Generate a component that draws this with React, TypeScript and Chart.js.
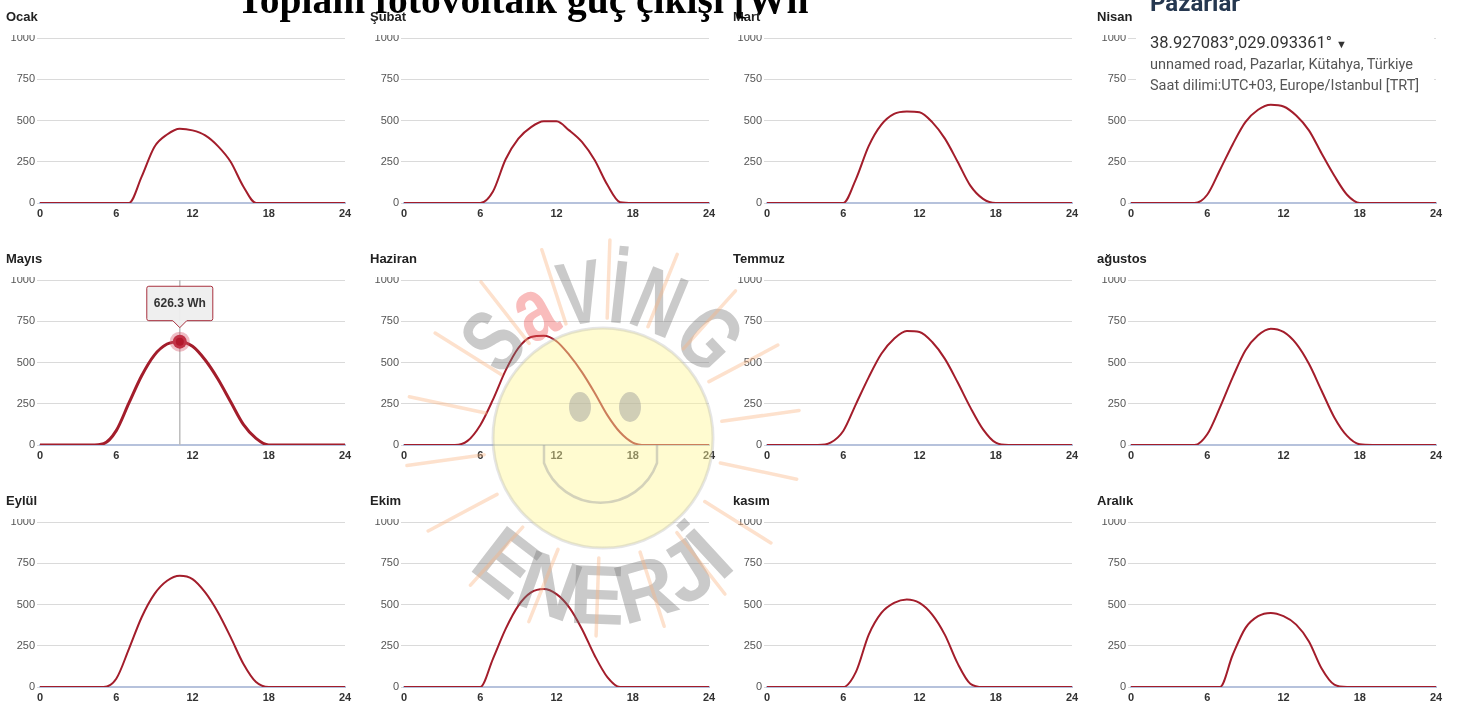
import React, { useEffect, useRef } from "react";
import { Chart, registerables } from "chart.js";

Chart.register(...registerables);

// ---------- data ----------
const HOURS = [0, 1, 2, 3, 4, 5, 6, 7, 8, 9, 10, 11, 12, 13, 14, 15, 16, 17, 18, 19, 20, 21, 22, 23, 24];
const MONTHS = ["Ocak", "Şubat", "Mart", "Nisan", "Mayıs", "Haziran", "Temmuz", "ağustos", "Eylül", "Ekim", "kasım", "Aralık"];
const Y_MIN = 0;
const Y_MAX = 1000;
const Y_STEP = 250;
const X_MIN = 0;
const X_MAX = 24;
const X_STEP = 6;

const OCAK = [0, 0, 0, 0, 0, 0, 0, 0, 160, 340, 415, 450, 440, 410, 345, 250, 100, 0, 0, 0, 0, 0, 0, 0, 0];
const SUBAT = [0, 0, 0, 0, 0, 0, 0, 70, 265, 390, 460, 495, 495, 440, 370, 260, 110, 5, 0, 0, 0, 0, 0, 0, 0];
const MART = [0, 0, 0, 0, 0, 0, 0, 145, 345, 475, 540, 555, 550, 490, 390, 250, 105, 25, 0, 0, 0, 0, 0, 0, 0];
const NISAN = [0, 0, 0, 0, 0, 0, 50, 200, 355, 490, 565, 595, 585, 530, 440, 300, 165, 50, 0, 0, 0, 0, 0, 0, 0];
const MAYIS = [0, 0, 0, 0, 0, 8, 87, 255, 420, 545, 612, 626.3, 598, 515, 400, 262, 125, 40, 0, 0, 0, 0, 0, 0, 0];
const HAZIRAN = [0, 0, 0, 0, 0, 25, 120, 275, 452, 588, 655, 662, 629, 546, 442, 317, 181, 77, 15, 0, 0, 0, 0, 0, 0];
const TEMMUZ = [0, 0, 0, 0, 0, 14, 85, 248, 410, 553, 644, 691, 685, 624, 522, 380, 228, 95, 14, 0, 0, 0, 0, 0, 0];
const AGUSTOS = [0, 0, 0, 0, 0, 0, 65, 228, 410, 573, 665, 705, 685, 614, 492, 329, 167, 55, 4, 0, 0, 0, 0, 0, 0];
const EYLUL = [0, 0, 0, 0, 0, 0, 50, 231, 423, 563, 644, 674, 654, 573, 453, 302, 141, 30, 0, 0, 0, 0, 0, 0, 0];
const EKIM = [0, 0, 0, 0, 0, 0, 0, 171, 352, 493, 573, 594, 563, 483, 352, 191, 60, 0, 0, 0, 0, 0, 0, 0, 0];
const KASIM = [0, 0, 0, 0, 0, 0, 0, 92, 316, 449, 510, 531, 510, 439, 316, 143, 20, 0, 0, 0, 0, 0, 0, 0, 0];
const ARALIK = [0, 0, 0, 0, 0, 0, 0, 0, 194, 357, 429, 449, 429, 378, 276, 112, 14, 0, 0, 0, 0, 0, 0, 0, 0];

const SERIES = [OCAK, SUBAT, MART, NISAN, MAYIS, HAZIRAN, TEMMUZ, AGUSTOS, EYLUL, EKIM, KASIM, ARALIK];
const HOVER_MONTH = 4;
const HOVER_HOUR = 11;
const UNIT = "Wh";

const TITLE = "Toplam fotovoltaik güç çıkışı [Wh";
const PLACE = "Pazarlar";
const COORDS = "38.927083°,029.093361°";
const ADDRESS = "unnamed road, Pazarlar, Kütahya, Türkiye";
const TIMEZONE = "Saat dilimi:UTC+03, Europe/Istanbul [TRT]";
const WM_TOP = ["S", "a", "VİNG"];
const WM_BOTTOM = "ENERJİ";

// ---------- layout ----------
const COL_X = [0, 364, 727, 1091];
const ROW_Y = [38, 280, 522];
const Y_AXIS_W = 40;
const PLOT_W = 305;
const PLOT_H = 165;
const TOP_PAD = 3;
const RIGHT_PAD = 10;
const X_AXIS_H = 22;
const CANVAS_W = Y_AXIS_W + PLOT_W + RIGHT_PAD;
const CANVAS_H = TOP_PAD + PLOT_H + X_AXIS_H;

const SANS = '"Liberation Sans", Arial, sans-serif';
const LINE_COLOR = "#a31d2b";

const crosshair = {
  id: "crosshair",
  beforeDatasetsDraw(chart: any) {
    const act = chart.tooltip && chart.tooltip.getActiveElements ? chart.tooltip.getActiveElements() : [];
    if (!act || !act.length) return;
    const x = act[0].element.x;
    const { top, bottom } = chart.chartArea;
    const ctx = chart.ctx;
    ctx.save();
    ctx.strokeStyle = "#bdbdbd";
    ctx.lineWidth = 1.5;
    ctx.beginPath();
    ctx.moveTo(x, top);
    ctx.lineTo(x, bottom);
    ctx.stroke();
    ctx.restore();
  },
};

function makeConfig(i: number): any {
  const values = SERIES[i];
  const hovered = i === HOVER_MONTH;
  return {
    type: "line",
    data: {
      datasets: [
        {
          data: HOURS.map((h, k) => ({ x: h, y: values[k] })),
          borderColor: LINE_COLOR,
          borderWidth: hovered ? 3 : 2,
          pointRadius: 0,
          pointHoverRadius: hovered ? 7 : 0,
          pointHoverBackgroundColor: "#b3182c",
          pointHoverBorderColor: "rgba(214, 90, 110, 0.4)",
          pointHoverBorderWidth: 6,
          cubicInterpolationMode: "monotone",
          fill: false,
        },
      ],
    },
    options: {
      responsive: false,
      animation: false,
      events: [],
      layout: { padding: { top: TOP_PAD, right: RIGHT_PAD, left: 0, bottom: 0 } },
      plugins: {
        legend: { display: false },
        title: { display: false },
        tooltip: {
          enabled: hovered,
          mode: "nearest",
          intersect: false,
          yAlign: "bottom",
          xAlign: "center",
          backgroundColor: "rgba(238, 238, 238, 0.96)",
          borderColor: "#a8303e",
          borderWidth: 1,
          bodyColor: "#333333",
          bodyFont: { family: SANS, size: 12, weight: "bold" },
          padding: { x: 7, y: 10 },
          caretSize: 7,
          caretPadding: 14,
          cornerRadius: 2,
          displayColors: false,
          callbacks: {
            title: () => [],
            label: (ctx: any) => `${ctx.parsed.y} ${UNIT}`,
          },
        },
      },
      scales: {
        x: {
          type: "linear",
          min: X_MIN,
          max: X_MAX,
          ticks: {
            stepSize: X_STEP,
            color: "#333333",
            font: { family: SANS, size: 11, weight: "bold" },
            padding: 4,
            maxRotation: 0,
            callback: (v: any) => String(v),
          },
          grid: { display: false, drawTicks: false },
          border: { display: true, color: "#b6c2dc", width: 2 },
          afterFit: (s: any) => {
            s.height = X_AXIS_H;
            s.paddingLeft = 0;
            s.paddingRight = 0;
          },
        },
        y: {
          min: Y_MIN,
          max: Y_MAX,
          ticks: {
            stepSize: Y_STEP,
            color: "#555555",
            font: { family: SANS, size: 11 },
            padding: 2,
            callback: (v: any) => String(v),
          },
          grid: { color: "#dadada", lineWidth: 1, tickLength: 3, drawTicks: true },
          border: { display: false },
          afterFit: (s: any) => {
            s.width = Y_AXIS_W;
            s.paddingTop = 0;
            s.paddingBottom = 0;
          },
        },
      },
    },
    plugins: hovered ? [crosshair] : [],
  };
}

function Watermark() {
  const cx = 603;
  const cy = 438;
  const rays = [] as any[];
  for (let k = 0; k < 18; k++) {
    const a = (k * 20 + 8) * (Math.PI / 180);
    const r1 = 120;
    const r2 = 198;
    rays.push(
      <line
        key={k}
        x1={cx + r1 * Math.cos(a)}
        y1={cy - r1 * Math.sin(a)}
        x2={cx + r2 * Math.cos(a)}
        y2={cy - r2 * Math.sin(a)}
        stroke="rgba(250, 180, 130, 0.4)"
        strokeWidth={3.5}
        strokeLinecap="round"
      />
    );
  }
  const rt = 116;
  const rb = 186;
  const a1 = (200 * Math.PI) / 180;
  const a2 = (340 * Math.PI) / 180;
  const b1 = (160 * Math.PI) / 180;
  const b2 = (20 * Math.PI) / 180;
  return (
    <g>
      <defs>
        <path
          id="wmTop"
          d={`M ${cx + rt * Math.cos(a1)} ${cy + rt * Math.sin(a1)} A ${rt} ${rt} 0 0 1 ${cx + rt * Math.cos(a2)} ${cy + rt * Math.sin(a2)}`}
        />
        <path
          id="wmBottom"
          d={`M ${cx + rb * Math.cos(b1)} ${cy + rb * Math.sin(b1)} A ${rb} ${rb} 0 0 0 ${cx + rb * Math.cos(b2)} ${cy + rb * Math.sin(b2)}`}
        />
      </defs>
      <circle cx={cx} cy={cy} r={110} fill="rgba(255, 246, 150, 0.45)" stroke="rgba(170,170,170,0.3)" strokeWidth={3} />
      <ellipse cx={cx - 23} cy={cy - 31} rx={11} ry={15} fill="rgba(150,150,150,0.45)" />
      <ellipse cx={cx + 27} cy={cy - 31} rx={11} ry={15} fill="rgba(150,150,150,0.45)" />
      <path
        d={`M ${cx - 59} ${cy + 7} L ${cx - 59} ${cy + 25} A 60 60 0 0 0 ${cx + 54} ${cy + 25} L ${cx + 54} ${cy + 7}`}
        fill="none"
        stroke="rgba(160,160,160,0.45)"
        strokeWidth={2.5}
      />
      <text fontFamily={SANS} fontWeight="bold" fontSize={90} fill="rgba(115,115,115,0.38)">
        <textPath href="#wmTop" startOffset="50%" textAnchor="middle" textLength={240} lengthAdjust="spacingAndGlyphs">
          <tspan>{WM_TOP[0]}</tspan>
          <tspan fill="rgba(240, 80, 80, 0.38)">{WM_TOP[1]}</tspan>
          <tspan>{WM_TOP[2]}</tspan>
        </textPath>
      </text>
      <text fontFamily={SANS} fontWeight="bold" fontSize={84} fill="rgba(115,115,115,0.38)">
        <textPath href="#wmBottom" startOffset="50%" textAnchor="middle" textLength={300} lengthAdjust="spacingAndGlyphs">
          {WM_BOTTOM}
        </textPath>
      </text>
      {rays}
    </g>
  );
}

export default function App() {
  const refs = useRef<(HTMLCanvasElement | null)[]>([]);

  useEffect(() => {
    const charts = refs.current.map((cv, i) => new Chart(cv as HTMLCanvasElement, makeConfig(i)));
    const hc: any = charts[HOVER_MONTH];
    const act = [{ datasetIndex: 0, index: HOVER_HOUR }];
    hc.setActiveElements(act);
    hc.tooltip.setActiveElements(act, { x: 0, y: 0 });
    hc.update();
    return () => charts.forEach((c) => c.destroy());
  }, []);

  return (
    <div style={{ position: "absolute", left: 0, top: 0, width: 1459, height: 706, background: "#ffffff", overflow: "hidden" }}>
      {MONTHS.map((m, i) => {
        const col = i % 4;
        const row = Math.floor(i / 4);
        return (
          <canvas
            key={m}
            ref={(el) => {
              refs.current[i] = el;
            }}
            width={CANVAS_W}
            height={CANVAS_H}
            style={{
              position: "absolute",
              left: COL_X[col],
              top: ROW_Y[row] - TOP_PAD,
              width: CANVAS_W,
              height: CANVAS_H,
            }}
          />
        );
      })}
      <svg width={1459} height={706} style={{ position: "absolute", left: 0, top: 0, pointerEvents: "none" }}>
        {MONTHS.map((m, i) => {
          const col = i % 4;
          const row = Math.floor(i / 4);
          return (
            <text key={m} x={COL_X[col] + 6} y={ROW_Y[row] - 17} fontFamily={SANS} fontWeight="bold" fontSize={13} fill="#222222">
              {m}
            </text>
          );
        })}
        <Watermark />
        <rect x={1136} y={0} width={298} height={100} fill="#ffffff" />
        <text x={1150} y={11} fontFamily="Roboto, sans-serif" fontWeight="bold" fontSize={24} fill="#263850">
          {PLACE}
        </text>
        <text x={1150} y={48} fontFamily="Roboto, sans-serif" fontSize={16.5} fill="#333333">
          {COORDS} <tspan fontSize={11}>▼</tspan>
        </text>
        <text x={1150} y={69} fontFamily="Roboto, sans-serif" fontSize={14.5} fill="#555555">
          {ADDRESS}
        </text>
        <text x={1150} y={90} fontFamily="Roboto, sans-serif" fontSize={14.5} fill="#555555">
          {TIMEZONE}
        </text>
        <text x={237} y={13} fontFamily='"Liberation Serif", "Times New Roman", serif' fontWeight="bold" fontSize={39.5} fill="#000000">
          {TITLE}
        </text>
      </svg>
    </div>
  );
}
